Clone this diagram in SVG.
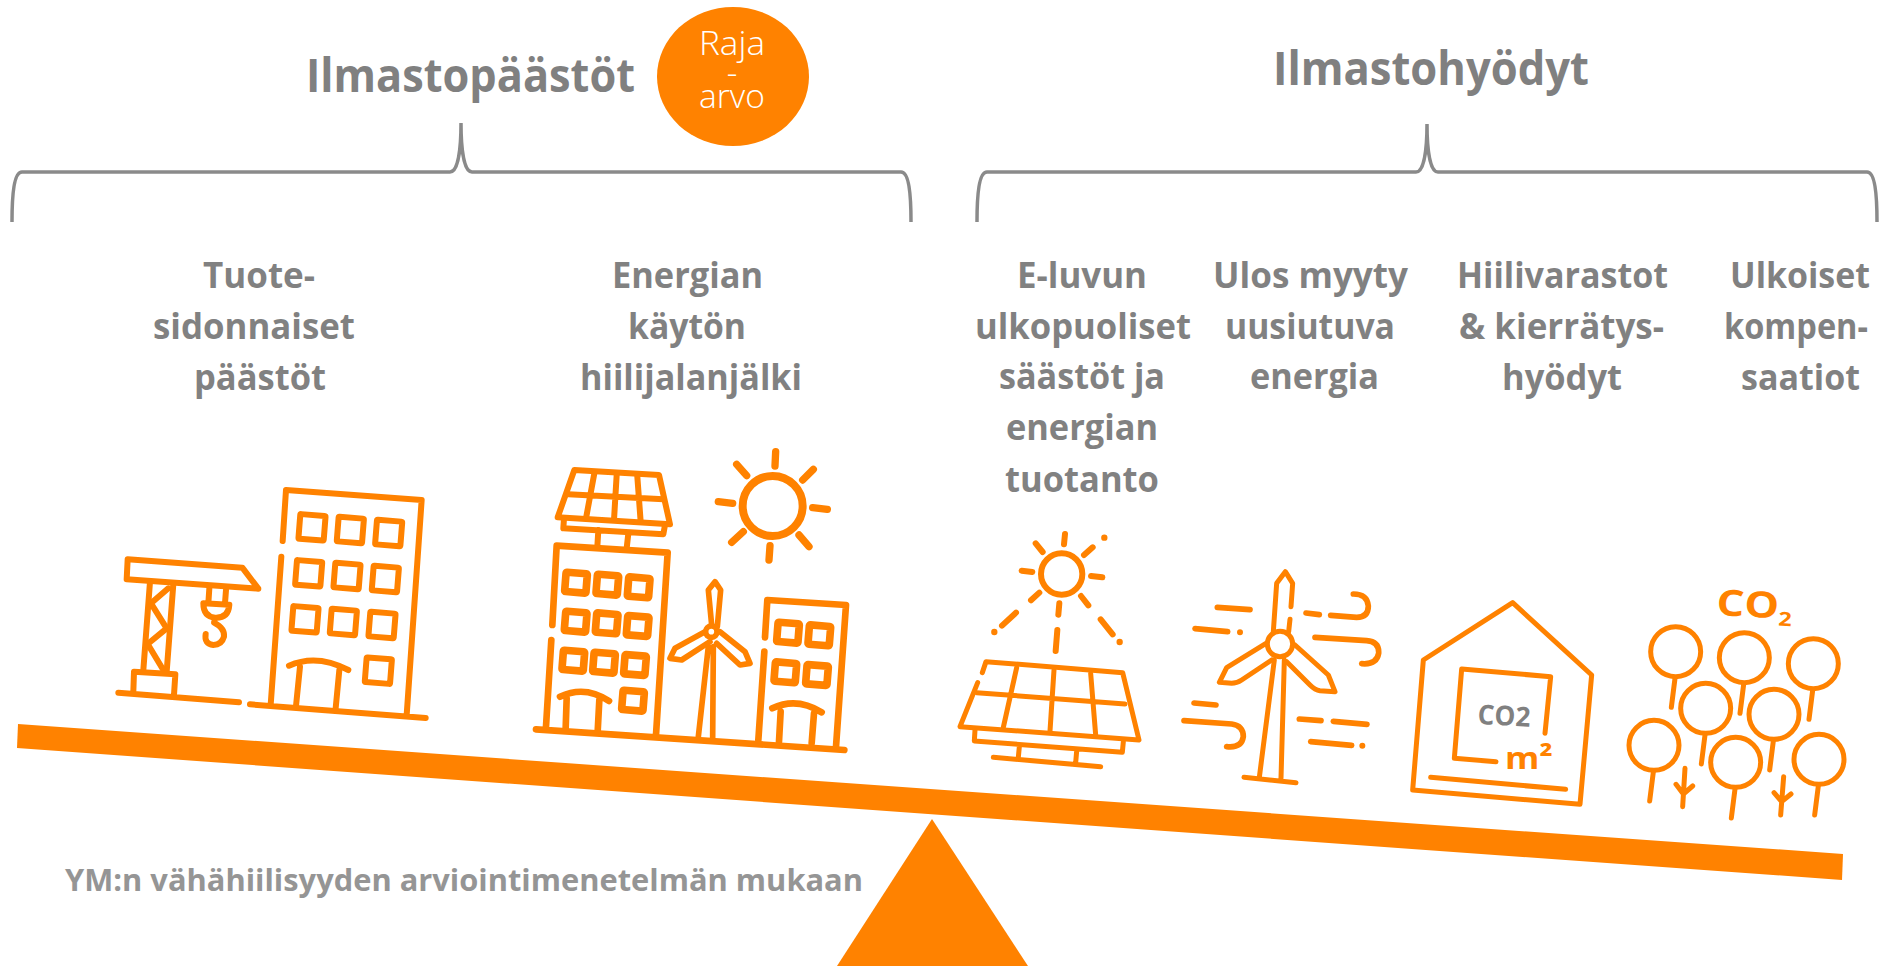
<svg xmlns="http://www.w3.org/2000/svg" width="1884" height="966" viewBox="0 0 1884 966">
<style>
text{font-family:"Open Sans","Noto Sans","Liberation Sans",sans-serif}
.t{font-size:47px;font-weight:700;fill:#808080}
.b{font-size:36.500px;font-weight:700;fill:#818181}
.r{font-size:33px;font-weight:300;fill:#fff;text-anchor:middle}
.br{fill:none;stroke:#8a8a8a;stroke-width:3.500}
.i{fill:none;stroke:#ff8200;stroke-linecap:round;stroke-linejoin:round}
.o{fill:#ff8200}
</style>
<defs>
<rect id="w1" x="-38" y="-37" width="76" height="74" rx="3"/>
<rect id="w2" x="-32" y="-29" width="64" height="58" rx="3"/>
<g id="tree"><circle cx="0" cy="0" r="75"/><path d="M-2,80L-13,167"/></g>
</defs>
<rect width="1884" height="966" fill="#fff"/>

<g id="titles">
<text class="t" x="306" y="92" textLength="329" lengthAdjust="spacingAndGlyphs">Ilmastopäästöt</text>
<text class="t" x="1273" y="85" textLength="316" lengthAdjust="spacingAndGlyphs">Ilmastohyödyt</text>
</g>
<g id="limit">
<ellipse cx="733" cy="76.500" rx="76" ry="69.500" class="o"/>
<text class="r" x="732" y="55" textLength="66" lengthAdjust="spacingAndGlyphs">Raja</text>
<text class="r" x="732" y="84">-</text>
<text class="r" x="732" y="108" textLength="66" lengthAdjust="spacingAndGlyphs">arvo</text>
</g>
<g id="brackets">
<path class="br" d="M12,222C12,195 14,172 22,172L450,172C458,172 461,150 461,123C461,150 464,172 472,172L901,172C909,172 911,195 911,222"/>
<path class="br" d="M977,222C977,195 979,172 987,172L1416,172C1424,172 1427,150 1427,124C1427,150 1430,172 1438,172L1867,172C1875,172 1877,195 1877,222"/>
</g>

<g id="label-tuote">
<text class="b" x="203" y="288" textLength="112" lengthAdjust="spacingAndGlyphs">Tuote-</text>
<text class="b" x="153" y="339" textLength="202" lengthAdjust="spacingAndGlyphs">sidonnaiset</text>
<text class="b" x="194" y="390" textLength="132" lengthAdjust="spacingAndGlyphs">päästöt</text>
</g>
<g id="label-energia">
<text class="b" x="612" y="288" textLength="151" lengthAdjust="spacingAndGlyphs">Energian</text>
<text class="b" x="628" y="339" textLength="118" lengthAdjust="spacingAndGlyphs">käytön</text>
<text class="b" x="580" y="390" textLength="222" lengthAdjust="spacingAndGlyphs">hiilijalanjälki</text>
</g>
<g id="label-eluku">
<text class="b" x="1017" y="288" textLength="130" lengthAdjust="spacingAndGlyphs">E-luvun</text>
<text class="b" x="975" y="339" textLength="216" lengthAdjust="spacingAndGlyphs">ulkopuoliset</text>
<text class="b" x="999" y="389" textLength="166" lengthAdjust="spacingAndGlyphs">säästöt ja</text>
<text class="b" x="1006" y="440" textLength="152" lengthAdjust="spacingAndGlyphs">energian</text>
<text class="b" x="1005" y="492" textLength="154" lengthAdjust="spacingAndGlyphs">tuotanto</text>
</g>
<g id="label-ulos">
<text class="b" x="1213" y="288" textLength="195" lengthAdjust="spacingAndGlyphs">Ulos myyty</text>
<text class="b" x="1225" y="339" textLength="170" lengthAdjust="spacingAndGlyphs">uusiutuva</text>
<text class="b" x="1250" y="389" textLength="129" lengthAdjust="spacingAndGlyphs">energia</text>
</g>
<g id="label-hiili">
<text class="b" x="1457" y="288" textLength="211" lengthAdjust="spacingAndGlyphs">Hiilivarastot</text>
<text class="b" x="1459" y="339" textLength="205" lengthAdjust="spacingAndGlyphs">&amp; kierrätys-</text>
<text class="b" x="1502" y="390" textLength="120" lengthAdjust="spacingAndGlyphs">hyödyt</text>
</g>
<g id="label-ulkoiset">
<text class="b" x="1730" y="288" textLength="140" lengthAdjust="spacingAndGlyphs">Ulkoiset</text>
<text class="b" x="1724" y="339" textLength="144" lengthAdjust="spacingAndGlyphs">kompen-</text>
<text class="b" x="1741" y="390" textLength="119" lengthAdjust="spacingAndGlyphs">saatiot</text>
</g>

<g id="icon-crane-building" class="i" stroke-width="18" transform="translate(100 440) scale(.33333)">
<path d="M427,383L83,358L80,418L475,446Z"/>
<path d="M150,425L130,690M220,432L200,695"/>
<path d="M205,445L153,490L200,565L143,612L190,690" />
<path d="M100,755L102,695L226,703L222,765M55,758L417,787"/>
<path d="M328,445L325,490M378,450L375,490M310,490L388,494Q385,535 345,533Q310,530 310,490ZM345,535L342,548Q375,565 372,590Q365,615 340,615Q312,612 317,582"/>
<path d="M548,303L558,150L965,180L920,825M544,350L512,795M450,793L977,834"/>
<g>
<use href="#w1" transform="translate(636 262) rotate(4.500)"/>
<use href="#w1" transform="translate(751 270) rotate(4.500)"/>
<use href="#w1" transform="translate(866 279) rotate(4.500)"/>
<use href="#w1" transform="translate(626 400) rotate(4.500)"/>
<use href="#w1" transform="translate(741 408) rotate(4.500)"/>
<use href="#w1" transform="translate(856 417) rotate(4.500)"/>
<use href="#w1" transform="translate(615 538) rotate(4.500)"/>
<use href="#w1" transform="translate(730 546) rotate(4.500)"/>
<use href="#w1" transform="translate(846 555) rotate(4.500)"/>
<use href="#w1" transform="translate(835 692) rotate(4.500)"/>
</g>
<path d="M567,677Q650,640 745,690M600,680L588,798M718,690L707,805"/>
</g>

<g id="icon-solar-buildings" class="i" stroke-width="20" transform="translate(510 430) scale(.33333)">
<path stroke-width="18" d="M193,120L447,135L480,283L143,262Z"/>
<path stroke-width="18" d="M175,193L460,208M253,130L228,265M320,135L312,270M382,140L392,275"/>
<path stroke-width="18" d="M162,265L160,295L460,313L465,285M265,300L262,350M355,310L350,355"/>
<path d="M127,585L140,347L473,368L438,915M124,630L108,890M78,898L1003,960"/>
<g stroke-width="23">
<use href="#w2" transform="translate(198 458) rotate(4.500)"/>
<use href="#w2" transform="translate(292 464) rotate(4.500)"/>
<use href="#w2" transform="translate(386 472) rotate(4.500)"/>
<use href="#w2" transform="translate(197 575) rotate(4.500)"/>
<use href="#w2" transform="translate(290 580) rotate(4.500)"/>
<use href="#w2" transform="translate(383 588) rotate(4.500)"/>
<use href="#w2" transform="translate(190 692) rotate(4.500)"/>
<use href="#w2" transform="translate(282 698) rotate(4.500)"/>
<use href="#w2" transform="translate(375 705) rotate(4.500)"/>
<use href="#w2" transform="translate(369 812) rotate(4.500)"/>
<use href="#w2" transform="translate(834 608) rotate(4.500)"/>
<use href="#w2" transform="translate(928 616) rotate(4.500)"/>
<use href="#w2" transform="translate(826 727) rotate(4.500)"/>
<use href="#w2" transform="translate(921 735) rotate(4.500)"/>
</g>
<path d="M150,800Q225,765 297,813M170,805L167,895M268,810L263,905"/>
<path d="M765,622L772,510L1008,525L978,950M763,665L745,930"/>
<path d="M787,835Q860,800 935,847M812,845L807,935M912,850L905,940"/>
<g stroke-width="17">
<path d="M595,650L565,920M610,650L608,925"/>
<circle cx="604" cy="605" r="17"/>
<path d="M605,585L595,480L615,455L632,480L622,590"/>
<path d="M585,605L495,655L480,685L515,690L600,635"/>
<path d="M630,605L705,665L720,700L690,705L620,640"/>
</g>
<circle cx="788" cy="228" r="90" stroke-width="24"/>
<path stroke-width="22" d="M797,65L795,108M680,103L710,137M910,118L878,150M625,215L668,220M908,233L952,238M665,337L700,305M867,315L897,350M780,347L777,390"/>
</g>

<g id="icon-solar-panel" class="i" stroke-width="15" transform="translate(940 520) scale(.33333)">
<circle cx="365" cy="162" r="62" stroke-width="18"/>
<path stroke-width="18" d="M375,42L372,73M287,70L308,96M458,82L432,105M245,152L277,156M453,168L487,172M298,218L273,241M423,228L445,256M358,250L355,284M228,278L186,317M352,330L347,393M482,298L518,343"/>
<path stroke-width="19" d="M493,53h.01M163,336h.01M539,366h.01"/>
<path d="M127,458L138,425L548,458L597,660L60,620L113,488"/>
<path d="M110,518L555,552M230,443L190,622M342,450L330,633M452,460L467,645"/>
<path d="M105,630L103,663L547,697L550,665M238,680L235,712M410,693L407,728M160,712L482,740"/>
</g>

<g id="icon-wind-turbine" class="i" stroke-width="15" transform="translate(940 520) scale(.33333)">
<circle cx="1020" cy="372" r="38"/>
<path d="M1000,335L1010,190L1036,155L1058,190L1053,260M1050,298L1046,335"/>
<path d="M978,370L860,443L838,487L875,490Q890,490 905,480L995,420"/>
<path d="M1065,375L1165,465L1185,515L1140,512Q1125,510 1110,495L1040,425"/>
<path d="M1003,420L958,772M1033,420L1023,775M912,772L1068,788"/>
<path stroke-width="17" d="M832,262L930,269M765,326L863,335M1098,279L1138,284M1172,286L1250,292Q1285,292 1285,258Q1282,222 1240,222M1125,352L1280,362Q1318,365 1316,400Q1310,435 1265,431M762,549L828,555M732,602L875,612Q910,617 910,650Q905,685 860,680M1078,597L1143,602M1180,604L1281,613M1112,665L1235,676"/>
<path stroke-width="18" d="M900,337h.01M1267,677h.01"/>
</g>

<g id="icon-house" class="i" stroke-width="15" transform="translate(1390 570) scale(.33333)">
<path stroke-linecap="butt" d="M368,98L100,270L68,660L570,703L605,315Z"/>
<path d="M465,490L482,320L215,297L193,565L318,575M122,622L527,658"/>
<text x="262" y="462" font-size="82" font-weight="700" stroke="none" fill="#808080" textLength="158" lengthAdjust="spacingAndGlyphs" transform="rotate(3 262 462)">CO2</text>
<text x="345" y="598" font-size="92" font-weight="700" stroke="none" fill="#ff8200" textLength="143" lengthAdjust="spacingAndGlyphs">m²</text>
</g>

<g id="icon-trees" class="i" stroke-width="15" transform="translate(1390 570) scale(.33333)">
<text x="978" y="135" font-size="108" font-weight="700" stroke="none" fill="#ff8200" transform="rotate(3 978 135)" textLength="228" lengthAdjust="spacingAndGlyphs">CO<tspan font-size="58" dy="22">2</tspan></text>
<use href="#tree" x="857" y="245"/>
<use href="#tree" x="1063" y="263"/>
<use href="#tree" x="1270" y="281"/>
<use href="#tree" x="947" y="415"/>
<use href="#tree" x="1152" y="433"/>
<use href="#tree" x="792" y="526"/>
<use href="#tree" x="1037" y="577"/>
<use href="#tree" x="1287" y="568"/>
<path d="M885,595L878,710M858,643L880,672L908,648M1181,620L1172,735M1152,668L1175,695L1203,672"/>
</g>

<g id="beam"><polygon class="o" points="18,724 1843,854 1842,880 17,748"/></g>
<g id="fulcrum"><polygon class="o" points="932,819 1028,966 837,966"/></g>
<g id="note"><text x="65" y="891" font-size="30" font-weight="700" fill="#959595" textLength="798" lengthAdjust="spacingAndGlyphs">YM:n vähähiilisyyden arviointimenetelmän mukaan</text></g>
</svg>
